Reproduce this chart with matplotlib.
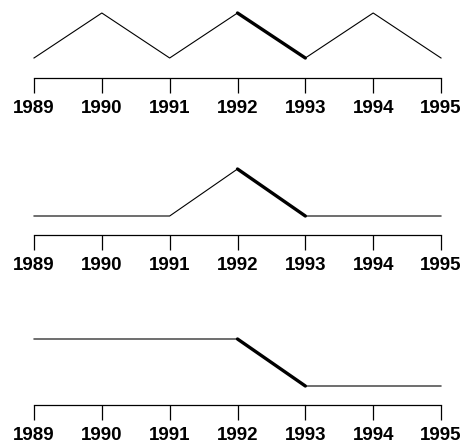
import matplotlib.pyplot as plt

# years on every time axis
years = [1989, 1990, 1991, 1992, 1993, 1994, 1995]

# one series per strip
series_zigzag = [0, 1, 0, 1, 0, 1, 0]
series_peak = [0, 0, 0, 1, 0, 0, 0]
series_step = [1, 1, 1, 1, 0, 0, 0]

# segment drawn heavy in each strip
bold_from, bold_to = 1992, 1993

W, H = 463, 447
fig = plt.figure(figsize=(W / 100, H / 100), dpi=100)

# pixel rows: (top line, axis line, low line) for each strip
rows = [(13, 78, 58), (169, 235, 216), (339, 405, 386)]
x_left, x_right = 34, 441

for data, (top, axis_y, low) in zip([series_zigzag, series_peak, series_step], rows):
    ax = fig.add_axes([x_left / W, (H - axis_y) / H,
                       (x_right - x_left) / W, (axis_y - top) / H])
    ax.plot(years, data, color='black', lw=0.8, clip_on=False,
            solid_joinstyle='miter')
    i0, i1 = years.index(bold_from), years.index(bold_to)
    ax.plot(years[i0:i1 + 1], data[i0:i1 + 1], color='black', lw=2.4,
            clip_on=False, solid_capstyle='round')
    ax.set_xlim(years[0], years[-1])
    ax.set_ylim(-(axis_y - low) / (low - top), 1)
    for s in ['top', 'left', 'right']:
        ax.spines[s].set_visible(False)
    ax.spines['bottom'].set_linewidth(0.9)
    ax.set_yticks([])
    ax.set_xticks(years)
    ax.set_xticklabels([str(y) for y in years], family='Liberation Sans',
                       fontweight='bold', fontsize=13.5)
    ax.tick_params(axis='x', direction='out', length=10.5, width=0.9,
                   pad=5.5, colors='black')
    ax.patch.set_visible(False)

fig.savefig('out.png', dpi=100)
